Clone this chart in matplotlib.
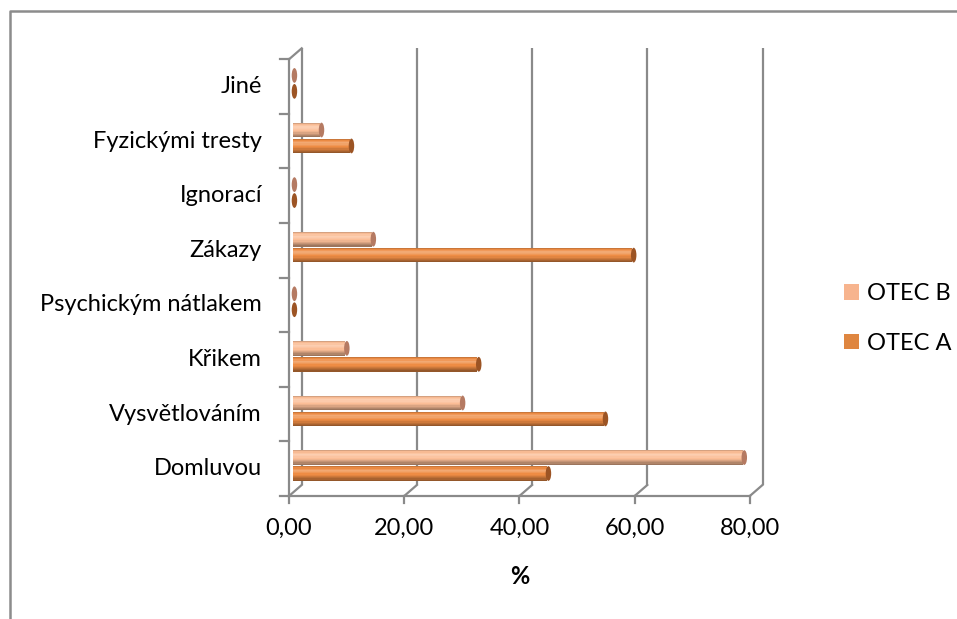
import matplotlib

matplotlib.use("Agg")
import matplotlib.pyplot as plt
import matplotlib.transforms as mtransforms
from matplotlib.patches import Ellipse, Patch
from matplotlib.lines import Line2D
import numpy as np

plt.rcParams["font.family"] = ["Lato", "DejaVu Sans"]

# bottom -> top, as in the chart
categories = ["Domluvou", "Vysvětlováním", "Křikem", "Psychickým nátlakem",
              "Zákazy", "Ignorací", "Fyzickými tresty", "Jiné"]
otec_a = [44.1, 54.0, 32.0, 0.0, 58.9, 0.0, 9.9, 0.0]
otec_b = [78.1, 29.2, 9.1, 0.0, 13.7, 0.0, 4.7, 0.0]
xticks = [0, 20, 40, 60, 80]
xtick_labels = ["0,00", "20,00", "40,00", "60,00", "80,00"]

GRID = "#8a8a8a"
COL_A = "#ee8c44"
COL_B = "#fbbd96"
CAP_A = "#9c5424"
CAP_B = "#b57a62"
FS = 17

W, H = 957, 619
fig = plt.figure(figsize=(W / 100, H / 100), dpi=100)

# axes sits in the plane of the bars; front and back planes are pixel offsets
left_px, right_px = 292.7, 753.5
top_px, bot_px = 56.1, 492.8
ax = fig.add_axes([left_px / W, 1 - bot_px / H,
                   (right_px - left_px) / W, (bot_px - top_px) / H])
ax.set_xlim(0, 80)
ax.set_ylim(-0.5, len(categories) - 0.5)
ax.axis("off")


def shift(dx, dy):
    return ax.transData + mtransforms.ScaledTranslation(dx / 100, dy / 100,
                                                        fig.dpi_scale_trans)


front = shift(-3.7, -3.2)
back = shift(9.0, 7.8)
ylo, yhi = -0.5, len(categories) - 0.5
lw = 1.6

# back wall gridlines
for v in xticks:
    ax.plot([v, v], [ylo, yhi], color=GRID, lw=lw, transform=back,
            clip_on=False, solid_capstyle="butt")

# left wall front edge + top connector
ax.plot([0, 0], [ylo, yhi], color=GRID, lw=lw, transform=front, clip_on=False)
top_f = front.transform((0, yhi))
top_b = back.transform((0, yhi))
fig.add_artist(Line2D([top_f[0] / W, top_b[0] / W], [top_f[1] / H, top_b[1] / H],
                      color=GRID, lw=lw))

# floor front edge + diagonals
ax.plot([0, 80], [ylo, ylo], color=GRID, lw=lw, transform=front, clip_on=False)
for v in xticks:
    pf = front.transform((v, ylo))
    pb = back.transform((v, ylo))
    fig.add_artist(Line2D([pf[0] / W, pb[0] / W], [pf[1] / H, pb[1] / H],
                          color=GRID, lw=lw))
    ax.plot([v, v], [ylo, ylo - 0.13], color=GRID, lw=lw, transform=front,
            clip_on=False)

# category tick marks on front left axis
for k in range(len(categories) + 1):
    y = ylo + k
    ax.plot([-1.56, 0], [y, y], color=GRID, lw=lw, transform=front,
            clip_on=False)


def shade(base, f):
    c = np.array(matplotlib.colors.to_rgb(base))
    if f >= 1:
        c = c + (1 - c) * (f - 1)
    else:
        c = c * f
    return np.clip(c, 0, 1)


def cylinder(vals, offset, base, cap):
    h = 0.27
    n = 12
    profile = np.concatenate([np.linspace(0.85, 1.25, 4),
                              np.linspace(1.2, 1.0, 3),
                              np.linspace(0.95, 0.62, 5)])
    for i, v in enumerate(vals):
        yc = i + offset
        if v > 0:
            for j in range(n):
                y0 = yc + h / 2 - (j + 1) * h / n
                ax.barh(y0, v, height=h / n, left=0, align="edge",
                        color=shade(base, profile[j]), lw=0, zorder=3)
        ax.add_patch(Ellipse((v + 0.3, yc), 0.95, h, facecolor=cap,
                             edgecolor="none", zorder=4, clip_on=False))


cylinder(otec_b, 0.146, COL_B, CAP_B)
cylinder(otec_a, -0.146, COL_A, CAP_A)

# labels
lab_tr = shift(-3.7 - 27, -3.2)
for i, c in enumerate(categories):
    ax.text(0, i, c, transform=lab_tr, ha="right", va="center", fontsize=FS,
            color="black")
tick_tr = shift(-3.7, -3.2 - 32)
for v, t in zip(xticks, xtick_labels):
    ax.text(v, ylo, t, transform=tick_tr, ha="center", va="center",
            fontsize=FS)
ax.text(40, ylo, "%", transform=shift(-3.7, -3.2 - 81), ha="center",
        va="center", fontsize=FS, fontweight="bold")

handles = [Patch(facecolor="#f7b48e", edgecolor="none"),
           Patch(facecolor="#df8640", edgecolor="none")]
fig.legend(handles, ["OTEC B", "OTEC A"], loc="center left",
           bbox_to_anchor=(834.5 / W, 1 - 318.5 / H), frameon=False,
           borderaxespad=0, fontsize=FS, handlelength=0.64, handleheight=0.64,
           handletextpad=0.32, labelspacing=1.2)

# chart-area border (top and left visible)
fig.add_artist(Line2D([10 / W, 10 / W, 1], [0, 1 - 11 / H, 1 - 11 / H],
                      color="#8c8c8c", lw=1.8))

fig.savefig("out.png", dpi=100)
